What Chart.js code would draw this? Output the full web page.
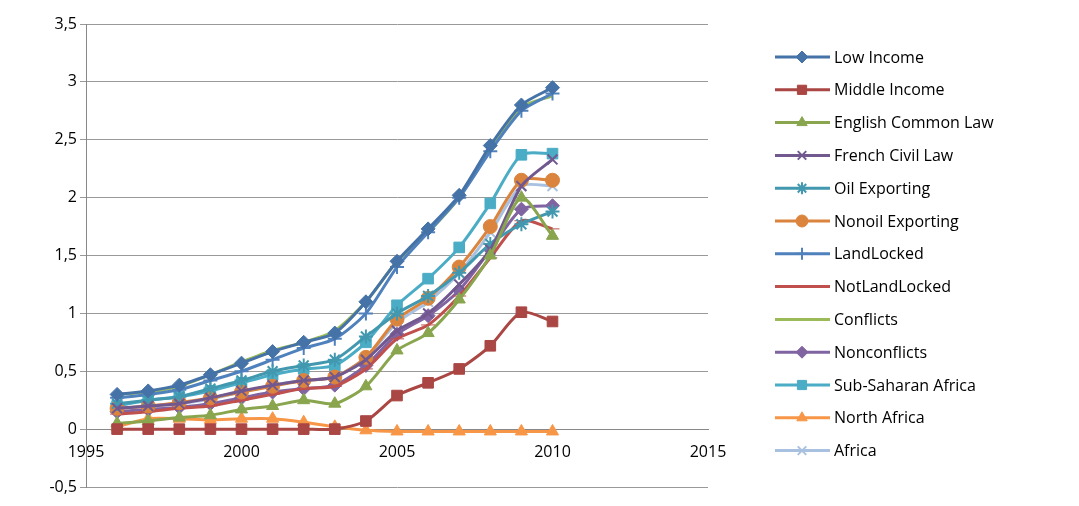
<!DOCTYPE html>
<html><head><meta charset="utf-8">
<script src="https://cdn.jsdelivr.net/npm/chart.js@4"></script>
<style>html,body{margin:0;background:#fff}#wrap{width:1079px;height:506px;position:relative}</style>
</head><body><div id="wrap"><canvas id="c"></canvas></div>
<script>
var years = [1996,1997,1998,1999,2000,2001,2002,2003,2004,2005,2006,2007,2008,2009,2010];
var seriesNames = ['Low Income','Middle Income','English Common Law','French Civil Law','Oil Exporting','Nonoil Exporting','LandLocked','NotLandLocked','Conflicts','Nonconflicts','Sub-Saharan Africa','North Africa','Africa'];
var lowIncome = [.3,.33,.38,.47,.57,.67,.75,.83,1.1,1.45,1.73,2.02,2.45,2.8,2.95];
var middleIncome = [0,0,0,0,0,0,0,0,.07,.29,.4,.52,.72,1.01,.93];
var englishLaw = [.05,.07,.1,.12,.17,.2,.25,.22,.37,.68,.83,1.12,1.5,2.0,1.67];
var frenchLaw = [.18,.2,.22,.27,.33,.38,.42,.45,.6,.85,1.0,1.25,1.55,2.1,2.33];
var oilExp = [.22,.25,.28,.35,.42,.5,.55,.6,.8,1.0,1.15,1.35,1.6,1.77,1.88];
var nonoilExp = [.18,.2,.23,.27,.32,.37,.42,.45,.62,.95,1.13,1.4,1.75,2.15,2.15];
var landLocked = [.27,.3,.34,.42,.5,.6,.7,.78,1.0,1.4,1.7,2.0,2.4,2.75,2.9];
var notLandLocked = [.13,.15,.18,.2,.25,.3,.35,.37,.52,.78,.9,1.15,1.48,1.8,1.73];
var conflicts = [.3,.32,.37,.47,.58,.68,.75,.85,1.1,1.45,1.7,2.0,2.42,2.78,2.88];
var nonconflicts = [.15,.17,.19,.22,.27,.32,.35,.38,.55,.82,.98,1.2,1.55,1.9,1.93];
var ssa = [.2,.25,.28,.33,.4,.47,.52,.55,.75,1.07,1.3,1.57,1.95,2.37,2.38];
var northAfrica = [.02,.09,.09,.08,.09,.09,.06,.02,-.01,-.02,-.02,-.02,-.02,-.02,-.02];
var africa = [.18,.2,.22,.26,.32,.38,.42,.45,.62,.92,1.1,1.35,1.7,2.1,2.1];
var allValues = [lowIncome,middleIncome,englishLaw,frenchLaw,oilExp,nonoilExp,landLocked,notLandLocked,conflicts,nonconflicts,ssa,northAfrica,africa];
var colors = ['#4572A7','#AA4643','#89A54E','#71588F','#4198AF','#DB843D','#4F81BD','#C0504D','#9BBB59','#8064A2','#4BACC6','#F79646','#A9C1E0'];
var markers = ['rectRot','rect','triangle','crossRot','star','circle','cross','line',false,'rectRot','rect','triangle','crossRot'];

var datasets = seriesNames.map(function(n, i) {
    var m = markers[i];
    return {
        label: n,
        data: years.map(function(y, j) { return {x: y, y: allValues[i][j]}; }),
        borderColor: colors[i], backgroundColor: colors[i],
        borderWidth: 3, showLine: true,
        pointStyle: m || 'circle',
        pointRadius: m ? (m === 'rect' ? 7.5 : 7) : 0,
        pointBorderWidth: (m === 'crossRot' || m === 'cross' || m === 'star') ? 2 : 1
    };
});

new Chart(document.getElementById('c'), {
    type: 'scatter',
    data: { datasets: datasets },
    options: {
        responsive: true, maintainAspectRatio: false, animation: false,
        layout: { padding: { left: 6, right: 371, top: 24, bottom: 19 } },
        plugins: { legend: { display: false }, tooltip: { enabled: false } },
        elements: { line: { tension: 0.25 } },
        scales: {
            x: {
                type: 'linear', min: 1995, max: 2015, position: { y: 0 },
                ticks: { stepSize: 5, color: '#000', font: { family: 'Open Sans', size: 16 }, padding: 6,
                    callback: function(v) { return String(v); } },
                grid: { display: false },
                border: { color: '#888' }
            },
            y: {
                min: -0.5, max: 3.5,
                afterFit: function(s) { s.width = 80; },
                ticks: { stepSize: 0.5, color: '#000', font: { family: 'Open Sans', size: 16 },
                    callback: function(v) { return String(v).replace('.', ','); } },
                grid: { color: '#999', tickLength: 6 },
                border: { color: '#888' }
            }
        }
    },
    plugins: [{
        id: 'sideLegend',
        afterDraw: function(chart) {
            var ctx = chart.ctx;
            ctx.save();
            ctx.font = '16px "Open Sans"';
            ctx.textBaseline = 'middle';
            chart.data.datasets.forEach(function(ds, i) {
                var y = 57 + i * 32.8;
                ctx.strokeStyle = ds.borderColor; ctx.fillStyle = ds.backgroundColor; ctx.lineWidth = 3;
                ctx.beginPath(); ctx.moveTo(775, y); ctx.lineTo(830, y); ctx.stroke();
                if (ds.pointRadius) {
                    ctx.lineWidth = ds.pointBorderWidth;
                    Chart.helpers.drawPoint(ctx, {pointStyle: ds.pointStyle, radius: ds.pointRadius - 1, borderWidth: ds.pointBorderWidth}, 802, y);
                }
                ctx.fillStyle = '#000';
                ctx.fillText(ds.label, 834, y + 1);
            });
            ctx.restore();
        }
    }]
});
</script></body></html>
